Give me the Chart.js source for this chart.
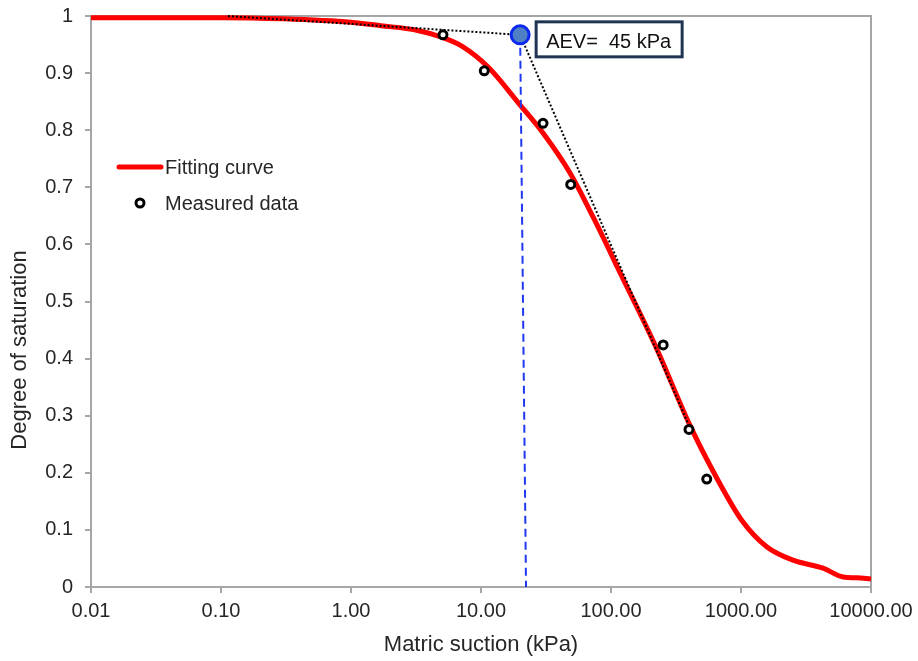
<!DOCTYPE html>
<html>
<head>
<meta charset="utf-8">
<title>SWCC</title>
<script src="https://cdn.jsdelivr.net/npm/chart.js@4.4.1/dist/chart.umd.min.js"></script>
<style>
  body { margin: 0; background: #fff; }
  #wrap { width: 918px; height: 661px; }
</style>
</head>
<body>
<div id="wrap"><canvas id="chart"></canvas></div>
<script>
  // fitting curve (kPa, degree of saturation)
  var curveSuction = [0.01, 0.03, 0.1, 0.3, 1, 1.7, 3.2, 5.1, 7.27, 11.3, 20, 30, 48.4, 72.8, 120, 222, 405, 665, 1019, 1585, 2512, 4275, 6095, 7800, 10000];
  var curveSat = [0.997, 0.997, 0.997, 0.995, 0.989, 0.983, 0.975, 0.962, 0.946, 0.911, 0.844, 0.795, 0.725, 0.648, 0.546, 0.420, 0.283, 0.187, 0.116, 0.070, 0.047, 0.033, 0.0175, 0.016, 0.014];

  // measured points
  var measSuction = [5.1, 10.6, 30, 49, 252, 398, 545];
  var measSat = [0.967, 0.904, 0.812, 0.705, 0.424, 0.276, 0.189];

  // air entry value construction
  var aevSuction = [20];
  var aevSat = [0.967];
  var tangent1Suction = [0.113, 20];
  var tangent1Sat = [1.0, 0.967];
  var tangent2Suction = [20, 390];
  var tangent2Sat = [0.967, 0.287];
  var dropSuction = [20, 22.2];
  var dropSat = [0.967, 0];

  var xTicks = [0.01, 0.1, 1, 10, 100, 1000, 10000];
  var aevLabel = 'AEV=  45 kPa';

  var axisColor = '#a6a6a6';
  var textColor = '#262626';
  var fontFamily = "'Liberation Sans', Arial, sans-serif";

  function pts(xs, ys) {
    var out = [];
    for (var i = 0; i < xs.length; i++) out.push({ x: xs[i], y: ys[i] });
    return out;
  }

  // keep the plot area where the layout padding puts it
  function noLabelPadding(s) {
    s.paddingTop = 0;
    s.paddingBottom = 0;
    s.paddingLeft = 0;
    s.paddingRight = 0;
  }

  // box, legend, label and axis titles
  var extras = {
    id: 'extras',
    beforeDatasetsDraw: function(chart) {
      var a = chart.chartArea, ctx = chart.ctx;
      ctx.save();
      ctx.strokeStyle = axisColor;
      ctx.lineWidth = 2;
      ctx.beginPath();
      ctx.moveTo(a.left, a.top);
      ctx.lineTo(a.right, a.top);
      ctx.lineTo(a.right, a.bottom);
      ctx.stroke();
      ctx.restore();
    },
    afterDatasetsDraw: function(chart) {
      var a = chart.chartArea, ctx = chart.ctx;
      var sx = chart.scales.x, sy = chart.scales.y;
      ctx.save();

      // legend
      ctx.font = '20px ' + fontFamily;
      ctx.fillStyle = textColor;
      ctx.textBaseline = 'alphabetic';
      ctx.textAlign = 'left';
      ctx.strokeStyle = '#ff0000';
      ctx.lineWidth = 5;
      ctx.lineCap = 'round';
      ctx.beginPath();
      ctx.moveTo(a.left + 28, a.top + 151);
      ctx.lineTo(a.left + 70, a.top + 151);
      ctx.stroke();
      ctx.fillText('Fitting curve', a.left + 74, a.top + 158);
      ctx.beginPath();
      ctx.arc(a.left + 49, a.top + 187, 4, 0, Math.PI * 2);
      ctx.fillStyle = '#fff';
      ctx.fill();
      ctx.lineWidth = 3;
      ctx.strokeStyle = '#000';
      ctx.stroke();
      ctx.fillStyle = textColor;
      ctx.fillText('Measured data', a.left + 74, a.top + 194);

      // AEV label box next to the point
      var px = sx.getPixelForValue(aevSuction[0]);
      var py = sy.getPixelForValue(aevSat[0]);
      ctx.lineWidth = 3;
      ctx.strokeStyle = '#1f3552';
      ctx.fillStyle = '#fff';
      ctx.fillRect(px + 16, py - 13, 146, 35);
      ctx.strokeRect(px + 16, py - 13, 146, 35);
      ctx.font = '20px ' + fontFamily;
      ctx.fillStyle = '#111';
      ctx.fillText(aevLabel, px + 26, py + 13);

      // axis titles
      ctx.font = '22px ' + fontFamily;
      ctx.fillStyle = textColor;
      ctx.textAlign = 'center';
      ctx.fillText('Matric suction (kPa)', (a.left + a.right) / 2, 651);
      ctx.translate(20, a.top + (a.bottom - a.top) * 0.585);
      ctx.rotate(-Math.PI / 2);
      ctx.textBaseline = 'middle';
      ctx.fillText('Degree of saturation', 0, 0);
      ctx.restore();
    }
  };

  var chart = new Chart(document.getElementById('chart'), {
    type: 'scatter',
    data: {
      datasets: [
        {
          label: 'Measured data',
          data: pts(measSuction, measSat),
          pointRadius: 4,
          pointBorderWidth: 3,
          pointBackgroundColor: '#fff',
          pointBorderColor: '#000',
          order: 1
        },
        {
          label: 'AEV',
          data: pts(aevSuction, aevSat),
          pointRadius: 9,
          pointBorderWidth: 3,
          pointBackgroundColor: '#4f7fc4',
          pointBorderColor: '#0a28f0',
          clip: false,
          order: 2
        },
        {
          label: 'tangent 1',
          data: pts(tangent1Suction, tangent1Sat),
          showLine: true,
          borderColor: '#000',
          borderWidth: 2,
          borderDash: [2, 2],
          pointRadius: 0,
          clip: false,
          order: 3
        },
        {
          label: 'tangent 2',
          data: pts(tangent2Suction, tangent2Sat),
          showLine: true,
          borderColor: '#000',
          borderWidth: 2,
          borderDash: [2, 2],
          pointRadius: 0,
          order: 3
        },
        {
          label: 'AEV line',
          data: pts(dropSuction, dropSat),
          showLine: true,
          borderColor: '#2038f0',
          borderWidth: 2,
          borderDash: [8, 5],
          pointRadius: 0,
          order: 4
        },
        {
          label: 'Fitting curve',
          data: pts(curveSuction, curveSat),
          showLine: true,
          borderColor: '#ff0000',
          borderWidth: 5,
          cubicInterpolationMode: 'monotone',
          pointRadius: 0,
          clip: false,
          order: 5
        }
      ]
    },
    options: {
      responsive: true,
      maintainAspectRatio: false,
      animation: false,
      layout: { padding: { top: 16, right: 47, bottom: 0, left: 0 } },
      plugins: {
        legend: { display: false },
        tooltip: { enabled: false }
      },
      scales: {
        x: {
          type: 'logarithmic',
          min: 0.01,
          max: 10000,
          afterBuildTicks: function(s) {
            s.ticks = xTicks.map(function(v) { return { value: v }; });
          },
          afterFit: function(s) { s.height = 74; noLabelPadding(s); },
          ticks: {
            autoSkip: false,
            maxRotation: 0,
            padding: 6,
            color: textColor,
            font: { size: 20, family: fontFamily },
            callback: function(v) { return Number(v).toFixed(2); }
          },
          grid: { drawOnChartArea: false, tickLength: 6, color: axisColor, lineWidth: 2 },
          border: { color: axisColor, width: 2 }
        },
        y: {
          min: 0,
          max: 1,
          afterFit: function(s) { s.width = 91; noLabelPadding(s); },
          ticks: {
            stepSize: 0.1,
            padding: 12,
            color: textColor,
            font: { size: 20, family: fontFamily },
            callback: function(v) { return String(Math.round(v * 10) / 10); }
          },
          grid: { drawOnChartArea: false, tickLength: 6, color: axisColor, lineWidth: 2 },
          border: { color: axisColor, width: 2 }
        }
      }
    },
    plugins: [extras]
  });
</script>
</body>
</html>
